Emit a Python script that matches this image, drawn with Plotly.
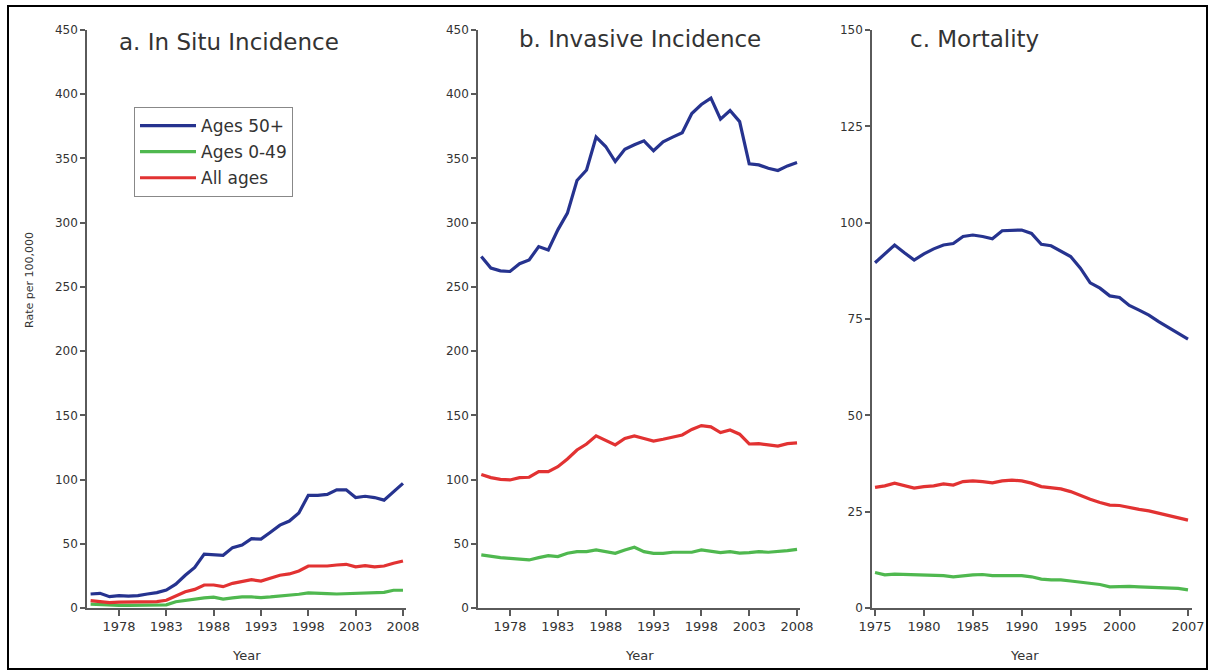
import plotly.graph_objects as go

years_inc = list(range(1975, 2009))
years_mort = list(range(1975, 2008))

# a. In Situ Incidence
insitu_50 = [10.9, 11.4, 8.8, 9.6, 9.3, 9.6, 10.9, 12.0, 14.0, 18.6, 25.5, 31.6, 42.0, 41.5, 41.0, 47.0, 49.0, 54.0, 53.6, 59.0,
             64.5, 67.7, 74.0, 87.7, 87.7, 88.5, 92.0, 92.0, 86.0, 87.0, 86.0, 84.0, 90.6, 97.0]
insitu_049 = [3.0, 2.5, 2.0, 2.0, 2.0, 2.0, 2.0, 2.0, 2.5, 4.9, 6.0, 7.1, 7.9, 8.4, 6.9, 7.9, 8.6, 8.6, 8.1, 8.6,
              9.3, 9.6, 10.7, 11.7, 11.7, 11.2, 10.9, 11.2, 11.7, 11.7, 12.0, 12.2, 13.8, 13.8]
insitu_all = [5.7, 5.0, 4.2, 4.5, 4.5, 4.5, 5.0, 5.0, 6.0, 9.3, 12.7, 14.5, 17.9, 17.9, 16.6, 19.2, 20.5, 22.0, 21.0, 23.0,
              25.5, 26.5, 28.8, 32.7, 32.7, 32.7, 33.5, 34.0, 32.0, 33.0, 32.0, 32.7, 34.8, 36.6]

# b. Invasive Incidence
inv_50 = [273.6, 264.6, 262.5, 262.0, 268.0, 271.0, 281.4, 278.8, 294.4, 307.4, 332.8, 341.0, 366.6, 359.3, 347.6, 357.2,
          360.6, 363.7, 356.0, 363.0, 366.6, 370.0, 385.0, 392.0, 397.0, 380.6, 387.3, 378.7, 345.8, 345.0, 342.4, 340.6,
          344.2, 346.8]
inv_049 = [41.3, 40.0, 39.2, 38.7, 38.2, 37.4, 39.2, 40.7, 40.0, 42.6, 43.9, 43.9, 45.2, 43.9, 42.6, 45.2, 47.3, 43.9,
           42.6, 42.6, 43.4, 43.4, 43.4, 45.2, 43.9, 43.1, 43.9, 42.8, 43.1, 43.9, 43.4, 43.9, 44.7, 45.7]
inv_all = [104.0, 101.5, 100.2, 99.7, 101.5, 101.8, 106.2, 106.2, 110.0, 116.0, 123.0, 127.7, 134.0, 130.8, 127.0, 132.0,
           134.0, 132.0, 130.0, 131.4, 133.0, 134.7, 139.0, 142.0, 141.0, 136.6, 138.6, 135.3, 127.7, 128.0, 127.0, 126.0,
           128.0, 128.6]

# c. Mortality
mort_50 = [89.6, 92.0, 94.2, 92.2, 90.3, 91.9, 93.2, 94.2, 94.6, 96.4, 96.8, 96.4, 95.8, 97.9, 98.1, 98.1, 97.2, 94.4,
           94.0, 92.7, 91.2, 88.2, 84.4, 83.0, 81.0, 80.6, 78.5, 77.3, 76.0, 74.3, 72.8, 71.3, 69.8]
mort_049 = [9.2, 8.6, 8.8, 8.7, 8.6, 8.6, 8.6, 8.4, 8.1, 8.4, 8.6, 8.7, 8.4, 8.4, 8.4, 8.4, 8.1, 7.5, 7.3, 7.3, 7.0,
            6.7, 6.4, 6.1, 5.5, 5.6, 5.6, 5.5, 5.4, 5.4, 5.1, 5.1, 4.7]
mort_all = [31.3, 31.7, 32.4, 31.7, 31.1, 31.5, 31.7, 32.2, 31.9, 32.8, 33.0, 32.8, 32.5, 33.0, 33.2, 33.0, 32.4, 31.5,
            31.3, 30.9, 30.2, 29.1, 28.2, 27.4, 26.7, 26.6, 26.0, 25.6, 25.2, 24.6, 24.0, 23.4, 22.8]

series_names = ["Ages 50+", "Ages 0-49", "All ages"]
panel_titles = ["a. In Situ Incidence", "b. Invasive Incidence", "c. Mortality"]
inc_ticks = [1978, 1983, 1988, 1993, 1998, 2003, 2008]
mort_ticks = [1975, 1980, 1985, 1990, 1995, 2000, 2007]
inc_yticks = list(range(0, 451, 50))
mort_yticks = list(range(0, 151, 25))

COLORS = ["#26338f", "#4fb84f", "#e23232"]
W, H = 1214, 671

def px_x(v):
    return v / W

def px_y(v):
    return 1 - v / H

fig = go.Figure()

panels = [
    (years_inc, [insitu_50, insitu_049, insitu_all]),
    (years_inc, [inv_50, inv_049, inv_all]),
    (years_mort, [mort_50, mort_049, mort_all]),
]
for p, (yrs, data) in enumerate(panels):
    ax = "" if p == 0 else str(p + 1)
    for i, (name, vals) in enumerate(zip(series_names, data)):
        fig.add_trace(go.Scatter(
            x=yrs, y=vals, mode="lines", name=name,
            line=dict(color=COLORS[i], width=3.2),
            xaxis="x" + ax, yaxis="y" + ax,
            showlegend=(p == 0), legendgroup="g%d" % i,
        ))

x_domains = [(87, 406), (478, 800), (872, 1192)]
x_ranges = [(1974.62, 2008.32), (1974.655, 2008.31), (1974.69, 2007.41)]
y_ranges = [(0, 450), (0, 450), (0, 150)]
x_ticks = [inc_ticks, inc_ticks, mort_ticks]
y_ticks = [inc_yticks, inc_yticks, mort_yticks]

axis_color = "#5a5a5a"
tick_font = dict(family="DejaVu Sans", size=12, color="#333333")
for p in range(3):
    sfx = "" if p == 0 else str(p + 1)
    fig.layout["xaxis" + sfx] = dict(
        domain=[px_x(x_domains[p][0]), px_x(x_domains[p][1])],
        range=list(x_ranges[p]), anchor="y" + sfx,
        tickmode="array", tickvals=x_ticks[p], ticktext=[str(t) for t in x_ticks[p]],
        ticks="outside", ticklen=6, tickcolor=axis_color, tickwidth=1.5,
        showline=True, linecolor=axis_color, linewidth=1.5,
        showgrid=False, zeroline=False, automargin=False,
        tickfont=dict(family="DejaVu Sans", size=13, color="#333333"),
        fixedrange=True,
    )
    fig.layout["yaxis" + sfx] = dict(
        domain=[px_y(608), px_y(30)],
        range=list(y_ranges[p]), anchor="x" + sfx,
        tickmode="array", tickvals=y_ticks[p],
        ticks="outside", ticklen=5, tickcolor=axis_color, tickwidth=1.5,
        showline=True, linecolor=axis_color, linewidth=1.5,
        showgrid=False, zeroline=False, automargin=False,
        tickfont=tick_font,
        fixedrange=True,
    )

annotations = []
title_pos = [(117, 42), (517, 39), (908, 39)]
for p in range(3):
    annotations.append(dict(
        text=panel_titles[p], x=px_x(title_pos[p][0]), y=px_y(title_pos[p][1]),
        xref="paper", yref="paper", xanchor="left", yanchor="middle", showarrow=False,
        font=dict(family="DejaVu Sans", size=23, color="#333333"),
    ))
for cx in [246, 639, 1024]:
    annotations.append(dict(
        text="Year", x=px_x(cx), y=px_y(655), xref="paper", yref="paper",
        xanchor="center", yanchor="middle", showarrow=False,
        font=dict(family="DejaVu Sans", size=13, color="#333333"),
    ))
annotations.append(dict(
    text="Rate per 100,000", x=px_x(29), y=px_y(280), xref="paper", yref="paper",
    xanchor="center", yanchor="middle", showarrow=False, textangle=-90,
    font=dict(family="DejaVu Sans", size=11, color="#333333"),
))

fig.update_layout(
    width=W, height=H,
    margin=dict(l=0, r=0, t=0, b=0, pad=0, autoexpand=False),
    paper_bgcolor="white", plot_bgcolor="white",
    annotations=annotations,
    legend=dict(
        x=px_x(134), y=px_y(107), xanchor="left", yanchor="top",
        bordercolor="#888888", borderwidth=1, bgcolor="white",
        font=dict(family="DejaVu Sans", size=17, color="#333333"),
        tracegroupgap=1, itemwidth=56, entrywidth=140,
    ),
    shapes=[dict(type="rect", xref="paper", yref="paper",
                 x0=px_x(8), x1=px_x(1207), y0=px_y(669), y1=px_y(6),
                 line=dict(color="black", width=2))],
)

fig.write_html("out.html", config={"displayModeBar": False},
               post_script="document.body.style.margin='0';document.body.style.overflow='hidden';")
